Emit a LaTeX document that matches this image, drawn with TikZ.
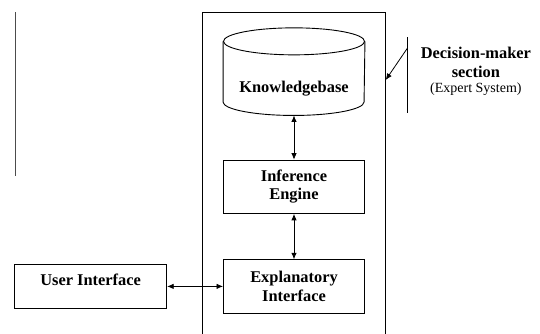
\documentclass[tikz,border=0pt]{standalone}
\usepackage{fontspec}
\setmainfont{Liberation Serif}
\usetikzlibrary{arrows.meta}

\begin{document}
\begin{tikzpicture}[x=1pt,y=-1pt,
    box/.style={rectangle,draw,line width=0.9pt,inner sep=0pt,align=center,
      font=\fontsize{16.4}{18.4}\selectfont\bfseries},
    link/.style={{Latex[length=6.5pt,width=5.5pt]}-{Latex[length=6.5pt,width=5.5pt]},line width=0.8pt}]
        \useasboundingbox (0,0) rectangle (540,334);
        \node [draw=none,minimum width=183pt,minimum height=321.3pt] (frame) at (294.2,173.35) {};
        \node [box,draw=none,minimum width=141pt,minimum height=86.7pt,text height=41pt,text depth=0pt] (kb) at (294,71.65) {Knowledgebase};
        \node [box,minimum width=141pt,minimum height=53.3pt] (ie) at (294,186.75) {Inference\\Engine};
        \node [box,minimum width=141pt,minimum height=53.4pt] (ei) at (294,286.4) {Explanatory\\Interface};
        \node [box,minimum width=152.2pt,minimum height=43.3pt,text height=12pt,text depth=14.4pt] (ui) at (90.6,286.4) {User Interface};
        \node [align=center,font=\fontsize{16.4}{18.4}\selectfont\bfseries] (dm) at (475.9,62.5) {Decision-maker\\section};
        \node [font=\fontsize{14}{16}\selectfont] (es) at (475.9,89.3) {(Expert System)};
        \coordinate (btop) at (407.3,37.3);
        \coordinate (bbot) at (407.3,113.3);
        \coordinate (bstart) at (407.3,48.3);
        \coordinate (ftip) at (385.7,80);
        \coordinate (ltop) at (15,12.3);
        \coordinate (lbot) at (15,176);
        \draw [line width=1pt] (frame.south west) -- (frame.north west) -- (frame.north east) -- (frame.south east);
        \draw [line width=0.9pt] ([yshift=-13.5pt]kb.north) ellipse [x radius=70.5pt,y radius=13.5pt];
        \draw [line width=0.9pt] ([yshift=-13.5pt]kb.north west) -- ([yshift=13.5pt]kb.south west)
          arc [start angle=180,end angle=360,x radius=70.5pt,y radius=13.5pt] -- ([yshift=-13.5pt]kb.north east);
        \draw [link] (kb.south) -- (ie.north);
        \draw [link] (ie.south) -- (ei.north);
        \draw [link] (ui.east) -- (ei.west);
        \draw [line width=0.8pt] (btop) -- (bbot);
        \draw [-{Latex[length=6.5pt,width=5.5pt]},line width=0.8pt] (bstart) -- (ftip);
        \draw [line width=1pt,black!70] (ltop) -- (lbot);
      \end{tikzpicture}
\end{document}
